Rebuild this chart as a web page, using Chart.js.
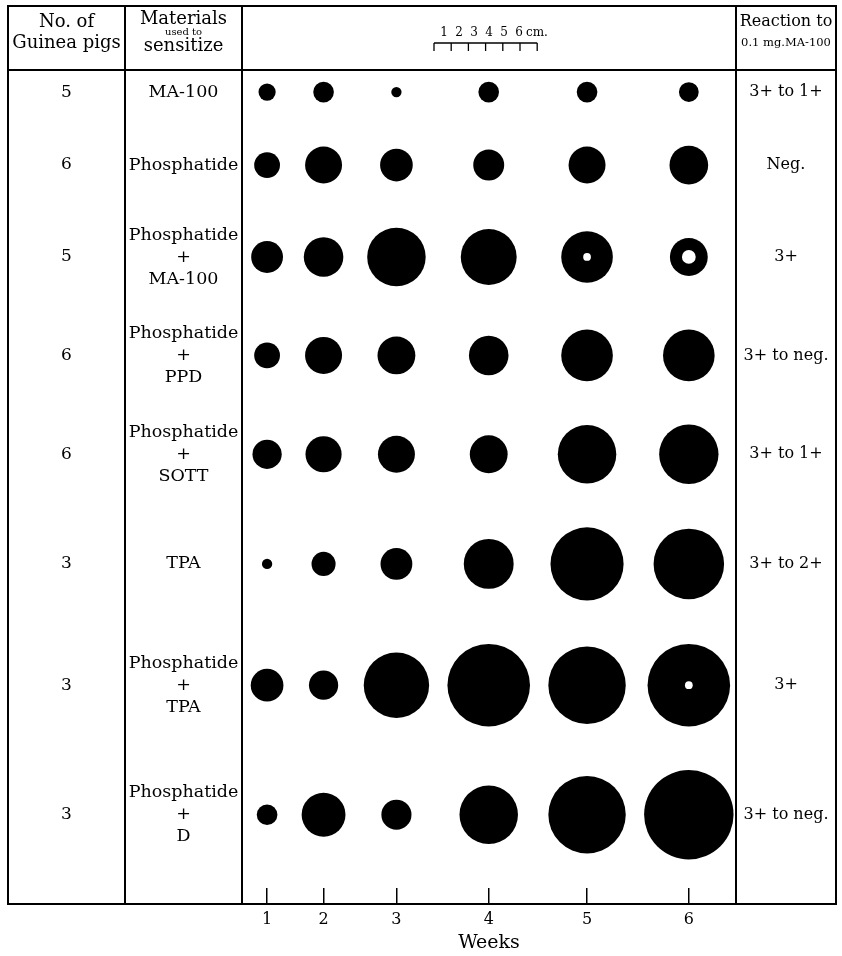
<!DOCTYPE html>
<html>
<head>
<meta charset="utf-8">
<script src="https://cdn.jsdelivr.net/npm/chart.js@4"></script>
<style>
  html, body { margin: 0; padding: 0; background: #fff; }
  canvas { display: block; }
</style>
</head>
<body>
<canvas id="chart" width="842" height="956"></canvas>
<script>
const weeks = ['1', '2', '3', '4', '5', '6'];
const materials = ['MA-100', 'Phosphatide', 'Phosphatide + MA-100', 'Phosphatide + PPD',
  'Phosphatide + SOTT', 'TPA', 'Phosphatide + TPA', 'Phosphatide + D'];
const guineaPigs = [5, 6, 5, 6, 6, 3, 3, 3];
const reactions = ['3+ to 1+', 'Neg.', '3+', '3+ to neg.', '3+ to 1+', '3+ to 2+', '3+', '3+ to neg.'];

// lesion diameter (mm), weeks 1-6
const ma100 = [10, 12, 6, 12, 12, 11.5];
const phosphatide = [15, 21.5, 19, 18, 21.5, 22.5];
const phosMA100 = [18.5, 23, 34, 32.5, 30, 22];
const phosPPD = [15, 21.5, 22, 23, 30, 30];
const phosSOTT = [17, 21, 21.5, 22, 34, 34.5];
const tpa = [6, 14, 18.5, 29, 42.5, 41];
const phosTPA = [19, 17, 38, 48, 45, 48];
const phosD = [12, 25.5, 17.5, 34, 45, 52];
const lesions = [ma100, phosphatide, phosMA100, phosPPD, phosSOTT, tpa, phosTPA, phosD];

// open (necrotic) centres, diameter in mm
const holeRows = ['Phosphatide + MA-100', 'Phosphatide + MA-100', 'Phosphatide + TPA'];
const holeWeeks = ['5', '6', '6'];
const holeMm = [4.5, 8, 4.5];

const FONT = '"DejaVu Serif", serif';
const pxPerMm = 1.72;

// each column/row gets room for its biggest lesion plus a gap
const slotLayout = {
  x: { sizes: weeks.map((w, i) => Math.max(...lesions.map(r => r[i])) * pxPerMm), gap: 18, edge: [25, 47] },
  y: { sizes: lesions.map(r => Math.max(...r) * pxPerMm), gap: 43, edge: [22, 73] }
};

class SlotScale extends Chart.CategoryScale {
  static id = 'slot';
  slotDecimal(index) {
    const { sizes, gap, edge } = slotLayout[this.id];
    let pos = edge[0], total = edge[0] + edge[1];
    for (let i = 0; i < sizes.length - 1; i++) {
      const pitch = (sizes[i] + sizes[i + 1]) / 2 + gap;
      total += pitch;
      if (i < index) pos += pitch;
    }
    return pos / total;
  }
  getPixelForValue(value) {
    if (typeof value !== 'number') value = this.parse(value);
    if (value === null || isNaN(value)) return NaN;
    return this.getPixelForDecimal(this.slotDecimal(value));
  }
  getPixelForTick(index) {
    return this.getPixelForValue(this.ticks[index].value);
  }
}
Chart.register(SlotScale);

const lesionData = [];
materials.forEach((m, r) => weeks.forEach((w, c) => lesionData.push({ x: w, y: m, d: lesions[r][c] })));
const holeData = holeRows.map((m, i) => ({ x: holeWeeks[i], y: m, d: holeMm[i] }));

function put(ctx, str, x, y, size, align) {
  ctx.font = size + 'px ' + FONT;
  ctx.textAlign = align || 'center';
  ctx.textBaseline = 'middle';
  ctx.fillText(str, x, y);
}
function line(ctx, x1, y1, x2, y2) {
  ctx.beginPath();
  ctx.moveTo(x1, y1);
  ctx.lineTo(x2, y2);
  ctx.stroke();
}

const tableFrame = {
  id: 'tableFrame',
  afterDraw(chart) {
    const { ctx, chartArea: area, scales: { y } } = chart;
    const L = 8, R = 836, T = 6, B = 904, H = area.top, c1 = 125;
    ctx.save();
    ctx.strokeStyle = '#000';
    ctx.fillStyle = '#000';
    ctx.lineWidth = 2;
    ctx.strokeRect(L, T, R - L, B - T);
    line(ctx, L, H, R, H);
    [c1, area.left, area.right].forEach(x => line(ctx, x, T, x, B));

    // header
    const xa = (L + c1) / 2, xb = (c1 + area.left) / 2, xc = (area.right + R) / 2;
    put(ctx, 'No. of', xa, 22, 18);
    put(ctx, 'Guinea pigs', xa, 43, 18);
    put(ctx, 'Materials', xb, 19, 18);
    put(ctx, 'used to', xb, 32, 10);
    put(ctx, 'sensitize', xb, 46, 18);
    put(ctx, 'Reaction to', xc, 22, 16);
    put(ctx, '0.1 mg.MA-100', xc, 43, 11.5);

    // centimetre ruler
    const cm = 10 * pxPerMm, rx = 434, ry = 43;
    ctx.lineWidth = 1.3;
    line(ctx, rx, ry, rx + 6 * cm, ry);
    for (let i = 0; i <= 6; i++) line(ctx, rx + i * cm, ry, rx + i * cm, ry + 8);
    for (let i = 1; i <= 6; i++) put(ctx, String(i), rx + 10 + (i - 1) * 15, 33, 12);
    put(ctx, 'cm.', rx + 92, 33, 12, 'left');

    // row texts
    materials.forEach((m, i) => {
      const yc = y.getPixelForValue(i);
      put(ctx, String(guineaPigs[i]), xa, yc, 17);
      const parts = m.split(' + ');
      const lines = parts.length > 1 ? [parts[0], '+', parts[1]] : parts;
      lines.forEach((t, k) => put(ctx, t, xb, yc + (k - (lines.length - 1) / 2) * 22, 17.5));
      put(ctx, reactions[i], xc, yc, 16);
    });
    ctx.restore();
  }
};

const radius = ctx => (ctx.raw ? ctx.raw.d * pxPerMm / 2 : 0);

new Chart(document.getElementById('chart'), {
  type: 'bubble',
  data: {
    datasets: [
      { label: 'Open centre', data: holeData, backgroundColor: '#fff', borderWidth: 0, order: 0, radius, hoverRadius: 0 },
      { label: 'Lesion', data: lesionData, backgroundColor: '#000', borderWidth: 0, order: 1, radius, hoverRadius: 0 }
    ]
  },
  options: {
    responsive: false,
    animation: false,
    devicePixelRatio: 1,
    layout: { padding: { left: 242, right: 106, top: 70, bottom: 0 } },
    plugins: { legend: { display: false }, tooltip: { enabled: false } },
    scales: {
      x: {
        type: 'slot',
        labels: weeks,
        offset: false,
        grid: { display: true, drawOnChartArea: false, drawTicks: true, tickLength: 15, color: '#000', lineWidth: 1.5, offset: false },
        border: { display: false },
        ticks: { color: '#000', font: { family: FONT, size: 16 }, padding: 7, maxRotation: 0, autoSkip: false },
        title: { display: true, text: 'Weeks', color: '#000', font: { family: FONT, size: 19 }, padding: { top: 0, bottom: 2 } },
        afterFit: s => { s.height = 68; }
      },
      y: {
        type: 'slot',
        labels: materials,
        display: false
      }
    }
  },
  plugins: [tableFrame]
});
</script>
</body>
</html>
